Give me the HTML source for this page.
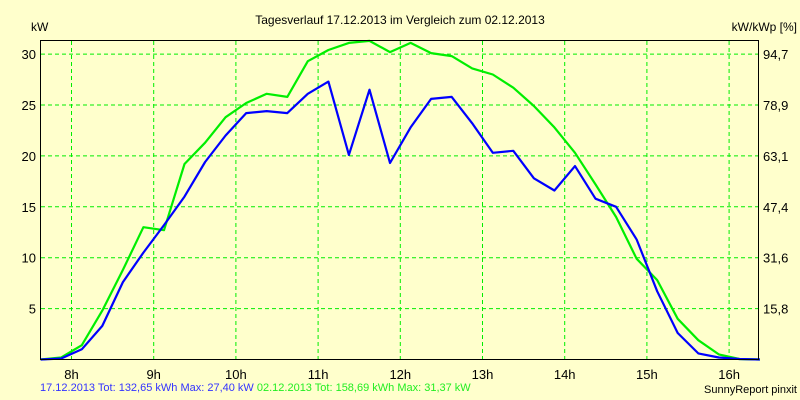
<!DOCTYPE html>
<html><head><meta charset="utf-8"><style>
html,body{margin:0;padding:0;background:#ffffcc;}
svg{display:block;font-family:"Liberation Sans",Arial,sans-serif;}
</style></head><body>
<svg id="chart" width="800" height="400">
<rect x="0" y="0" width="800" height="400" fill="#ffffcc"/>
<text x="400" y="24" font-size="12" text-anchor="middle" fill="#000">Tagesverlauf 17.12.2013 im Vergleich zum 02.12.2013</text>
<text x="31" y="31" font-size="12" fill="#000">kW</text>
<text x="797" y="31" font-size="12" text-anchor="end" fill="#000">kW/kWp [%]</text>
<g id="grid"></g>
<g id="series"></g>
<rect x="40.5" y="40.5" width="718" height="319" fill="none" stroke="#000" stroke-width="1"/>
<g id="labels"></g>
<text x="40" y="391" font-size="11"><tspan fill="#3333ff">17.12.2013 Tot: 132,65 kWh Max: 27,40 kW </tspan><tspan fill="#22ee22">02.12.2013 Tot: 158,69 kWh Max: 31,37 kW</tspan></text>
<text x="797" y="393" font-size="11" text-anchor="end" fill="#000">SunnyReport pinxit</text>
</svg>
<script>
const startHour = 7.625;
const stepHours = 0.25;
const blueValues = [0,0.1,1.0,3.3,7.6,10.5,13.2,16.0,19.4,22.0,24.2,24.4,24.2,26.1,27.3,20.1,26.5,19.3,22.8,25.6,25.8,23.2,20.3,20.5,17.8,16.6,19.0,15.8,15.0,11.8,6.7,2.6,0.6,0.2,0.05,0];
const greenValues = [0,0.2,1.4,4.8,8.8,13.0,12.7,19.2,21.3,23.8,25.2,26.1,25.8,29.3,30.4,31.1,31.3,30.2,31.1,30.1,29.8,28.6,28.0,26.7,24.9,22.8,20.3,17.2,14.0,9.9,7.8,4.0,1.9,0.5,0.05,0];
const yTicks = [5,10,15,20,25,30];
const yTickLabels = ["5","10","15","20","25","30"];
const rightTicks = [5,10,15,20,25,30];
const rightTickLabels = ["15,8","31,6","47,4","63,1","78,9","94,7"];
const xTicks = [8,9,10,11,12,13,14,15,16];
const xTickLabels = ["8h","9h","10h","11h","12h","13h","14h","15h","16h"];

const NS = "http://www.w3.org/2000/svg";
function xs(h){ return 71.5 + (h - 8) * 82.2; }
function ys(v){ return 359.5 - v * 10.18; }
function mk(tag, attrs, parent){ const e=document.createElementNS(NS,tag); for(const k in attrs) e.setAttribute(k,attrs[k]); parent.appendChild(e); return e; }

const grid=document.getElementById('grid');
const labels=document.getElementById('labels');
yTicks.forEach((v,i)=>{
  const l=mk('line',{x1:41,x2:758,y1:ys(v),y2:ys(v),stroke:'#00ee00','stroke-dasharray':'4,3','stroke-width':1},grid);
  
  
  const t=mk('text',{x:36,y:ys(v)+5,'font-size':13,'text-anchor':'end',fill:'#000'},labels);
  t.textContent=yTickLabels[i];
  
  
});
rightTicks.forEach((v,i)=>{
  const t=mk('text',{x:763,y:ys(v)+5,'font-size':13,fill:'#000'},labels);
  t.textContent=rightTickLabels[i];
  
  
});
xTicks.forEach((h,i)=>{
  const l=mk('line',{x1:xs(h),x2:xs(h),y1:41,y2:359,stroke:'#00ee00','stroke-dasharray':'4,3','stroke-width':1},grid);
  
  
  const t=mk('text',{x:xs(h),y:379,'font-size':13,'text-anchor':'middle',fill:'#000'},labels);
  t.textContent=xTickLabels[i];
  
  
});
const series=document.getElementById('series');
function pts(vals){ return vals.map((v,i)=>xs(startHour+i*stepHours).toFixed(1)+','+ys(v).toFixed(1)).join(' '); }
const g=mk('polyline',{points:pts(greenValues),fill:'none',stroke:'#00ee00','stroke-width':2.2,'stroke-linejoin':'round'},series);


const b=mk('polyline',{points:pts(blueValues),fill:'none',stroke:'#0000ff','stroke-width':2.2,'stroke-linejoin':'round'},series);


</script>
</body></html>
